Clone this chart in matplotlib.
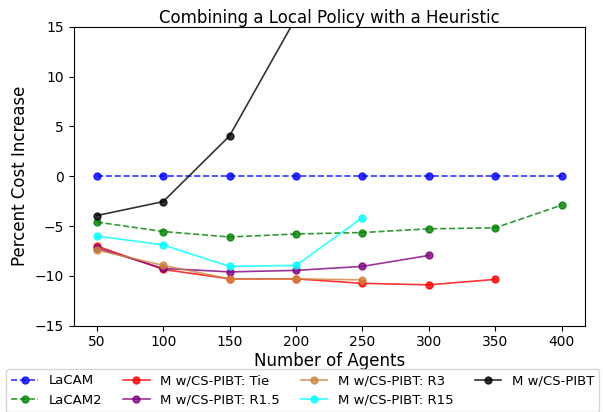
import matplotlib
matplotlib.use("Agg")
import matplotlib.pyplot as plt

agents = [50, 100, 150, 200, 250, 300, 350, 400]

lacam = [0, 0, 0, 0, 0, 0, 0, 0]
lacam2 = [-4.6, -5.55, -6.1, -5.8, -5.65, -5.28, -5.18, -2.9]
tie = [-7.0, -9.35, -10.3, -10.3, -10.75, -10.9, -10.35]
r15_small = [-7.2, -9.25, -9.6, -9.45, -9.05, -7.95]
r3 = [-7.4, -8.95, -10.3, -10.3, -10.4]
r15 = [-6.0, -6.9, -9.05, -8.95, -4.15]
cs_pibt = [-3.95, -2.55, 4.05, 15.9]

series = [
    ("LaCAM", lacam, "blue", "--"),
    ("LaCAM2", lacam2, "green", "--"),
    ("M w/CS-PIBT: Tie", tie, "red", "-"),
    ("M w/CS-PIBT: R1.5", r15_small, "purple", "-"),
    ("M w/CS-PIBT: R3", r3, "peru", "-"),
    ("M w/CS-PIBT: R15", r15, "cyan", "-"),
    ("M w/CS-PIBT", cs_pibt, "black", "-"),
]

fig = plt.figure(figsize=(6.03, 4.12), dpi=100)
ax = fig.add_axes([73.5 / 603, 1 - 325.7 / 412, (585 - 73.5) / 603, (325.7 - 26.7) / 412])

handles = []
for label, vals, color, ls in series:
    h, = ax.plot(agents[:len(vals)], vals, ls, color=color, marker="o",
                 markersize=5, linewidth=1.2, alpha=0.8, label=label)
    handles.append(h)

ax.set_xlim(32.5, 417.5)
ax.set_ylim(-15, 15)
ax.set_xticks([50, 100, 150, 200, 250, 300, 350, 400])
ax.set_yticks([-15, -10, -5, 0, 5, 10, 15])
ax.tick_params(labelsize=10)
ax.set_title("Combining a Local Policy with a Heuristic", fontsize=12, pad=3)
ax.set_xlabel("Number of Agents", fontsize=12, labelpad=2)
ax.set_ylabel("Percent Cost Increase", fontsize=12)

fig.legend(handles=handles, loc="upper center", bbox_to_anchor=(0.502, 1 - 369 / 412),
           ncol=4, fontsize=9.5, frameon=True, columnspacing=1.6,
           handlelength=2.0, borderaxespad=0.0)

fig.savefig("out.png", dpi=100)
